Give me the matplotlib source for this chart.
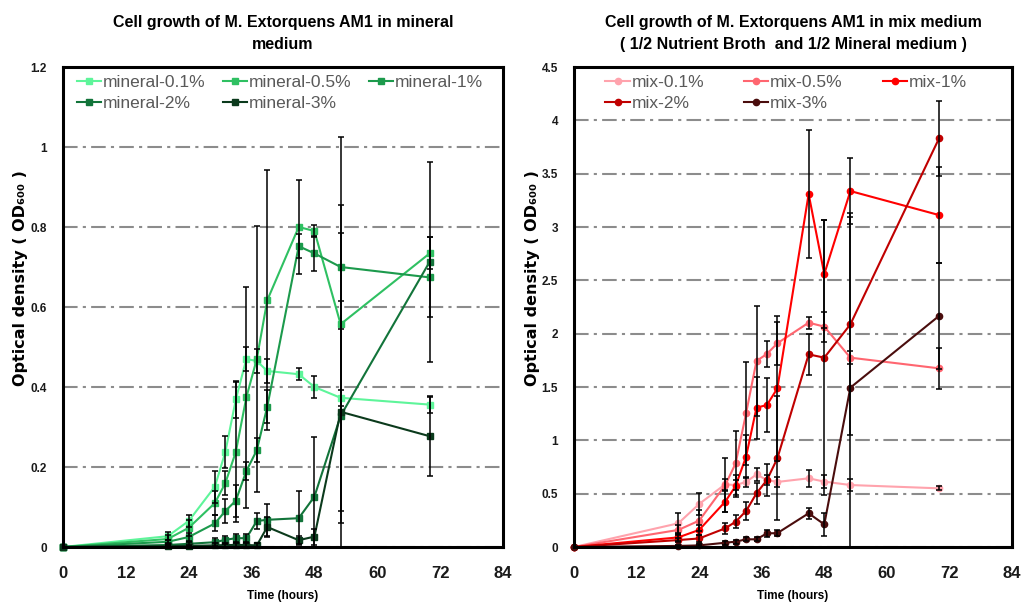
import matplotlib
matplotlib.use("Agg")
import matplotlib.pyplot as plt

plt.rcParams['font.family'] = ['Liberation Sans', 'DejaVu Sans']

# ---------------- data ----------------
time_h = [0, 20, 24, 29, 31, 33, 35, 37, 39, 45, 48, 53, 70]

mineral_labels = ["mineral-0.1%", "mineral-0.5%", "mineral-1%", "mineral-2%", "mineral-3%"]
min01 = [0, 0.027, 0.065, 0.151, 0.238, 0.369, 0.47, 0.465, 0.44, 0.432, 0.40, 0.373, 0.356]
min05 = [0, 0.02, 0.048, 0.11, 0.16, 0.238, 0.374, 0.47, 0.617, 0.80, 0.79, 0.557, 0.734]
min1 = [0, 0.013, 0.025, 0.059, 0.09, 0.116, 0.19, 0.242, 0.351, 0.752, 0.734, 0.70, 0.674]
min2 = [0, 0.005, 0.008, 0.012, 0.018, 0.022, 0.022, 0.065, 0.068, 0.072, 0.126, 0.328, 0.713]
min3 = [0, 0.002, 0.003, 0.004, 0.005, 0.005, 0.005, 0.004, 0.05, 0.017, 0.026, 0.338, 0.277]
min01_err = [0, 0.01, 0.015, 0.04, 0.04, 0.047, 0.03, 0.03, 0.03, 0.015, 0.028, 0.02, 0.02]
min05_err = [0, 0.01, 0.02, 0.03, 0.03, 0.175, 0.277, 0.333, 0.325, 0.117, 0.015, 0.468, 0.04]
min1_err = [0, 0.005, 0.01, 0.02, 0.03, 0.04, 0.023, 0.03, 0.042, 0.03, 0.044, 0.155, 0.10]
min2_err = [0, 0.003, 0.005, 0.01, 0.01, 0.01, 0.01, 0.02, 0.04, 0.067, 0.15, 0.458, 0.25]
min3_err = [0, 0.002, 0.003, 0.005, 0.005, 0.005, 0.005, 0.005, 0.025, 0.01, 0.02, 0.277, 0.10]

mix_labels = ["mix-0.1%", "mix-0.5%", "mix-1%", "mix-2%", "mix-3%"]
mix01 = [0, 0.222, 0.403, 0.588, 0.58, 0.61, 0.68, 0.628, 0.61, 0.644, 0.613, 0.581, 0.55]
mix05 = [0, 0.16, 0.247, 0.58, 0.784, 1.253, 1.744, 1.81, 1.91, 2.103, 2.066, 1.775, 1.675]
mix1 = [0, 0.09, 0.16, 0.425, 0.572, 0.847, 1.306, 1.331, 1.487, 3.309, 2.559, 3.337, 3.112]
mix2 = [0, 0.065, 0.08, 0.175, 0.237, 0.3375, 0.503, 0.628, 0.831, 1.806, 1.775, 2.087, 3.83]
mix3 = [0, 0.01, 0.015, 0.04, 0.05, 0.072, 0.072, 0.128, 0.13, 0.316, 0.212, 1.494, 2.166]
mix01_err = [0, 0.094, 0.106, 0.05, 0.05, 0.05, 0.06, 0.05, 0.05, 0.08, 0.06, 0.06, 0.02]
mix05_err = [0, 0.05, 0.10, 0.25, 0.30, 0.48, 0.52, 0.12, 0.20, 0.055, 0.14, 0.06, 0.19]
mix1_err = [0, 0.03, 0.05, 0.10, 0.10, 0.20, 0.29, 0.25, 0.68, 0.60, 0.51, 0.31, 0.45]
mix2_err = [0, 0.02, 0.03, 0.05, 0.06, 0.08, 0.10, 0.15, 0.58, 0.19, 1.29, 1.04, 0.355]
mix3_err = [0, 0.005, 0.01, 0.02, 0.02, 0.02, 0.02, 0.03, 0.03, 0.05, 0.11, 1.60, 0.50]

x_ticks = [0, 12, 24, 36, 48, 60, 72, 84]
left_yticks = [0, 0.2, 0.4, 0.6, 0.8, 1.0, 1.2]
left_yticklabels = ["0", "0.2", "0.4", "0.6", "0.8", "1", "1.2"]
right_yticks = [0, 0.5, 1, 1.5, 2, 2.5, 3, 3.5, 4, 4.5]
right_yticklabels = ["0", "0.5", "1", "1.5", "2", "2.5", "3", "3.5", "4", "4.5"]

left_title = "Cell growth of M. Extorquens AM1 in mineral\nmedium"
right_title = "Cell growth of M. Extorquens AM1 in mix medium\n( 1/2 Nutrient Broth  and 1/2 Mineral medium )"
ylabel = "Optical density ( OD\u2086\u2080\u2080 )"
xlabel = "Time (hours)"

mineral_colors = ["#5ef59a", "#2fc062", "#1c9a4c", "#12743a", "#0b3a1c"]
mix_colors = ["#ffa3ad", "#ff6670", "#ff0000", "#c00000", "#4a0d0d"]

mineral_series = [min01, min05, min1, min2, min3]
mineral_errs = [min01_err, min05_err, min1_err, min2_err, min3_err]
mix_series = [mix01, mix05, mix1, mix2, mix3]
mix_errs = [mix01_err, mix05_err, mix1_err, mix2_err, mix3_err]

# ---------------- figure ----------------
fig = plt.figure(figsize=(10.24, 6.1), dpi=100)
ax1 = fig.add_axes([63 / 1024, 63 / 610, 440 / 1024, 480 / 610])
ax2 = fig.add_axes([574 / 1024, 63 / 610, 438 / 1024, 480 / 610])


def draw(ax, series, errs, labels, colors, marker, ms, yticks, yticklabels, ylim, title,
         colspace, anchor_x):
    handles = []
    for s, c, lab in zip(series, colors, labels):
        h, = ax.plot(time_h, s, color=c, lw=1.5, marker=marker, ms=ms,
                     mec=c, mfc=c, label=lab, zorder=3, clip_on=False)
        handles.append(h)
    for s, e in zip(series, errs):
        ax.errorbar(time_h, s, yerr=e, fmt='none', ecolor='black', elinewidth=1.1,
                    capsize=2.5, capthick=1.1, zorder=4)
    ax.set_xlim(0, 84)
    ax.set_ylim(*ylim)
    ax.set_xticks(x_ticks)
    ax.set_yticks(yticks)
    ax.set_yticklabels(yticklabels)
    ax.tick_params(axis='x', length=0, pad=14, labelsize=12, labelcolor='#1a1a1a')
    ax.tick_params(axis='y', length=0, pad=11.5, labelsize=8.5, labelcolor='#1a1a1a')
    for lab in ax.get_xticklabels() + ax.get_yticklabels():
        lab.set_fontweight('bold')
    ax.yaxis.grid(True, color='#8c8c8c', lw=1.5, linestyle=(0, (7, 2.5, 1.5, 2.5)), zorder=1)
    ax.set_axisbelow(True)
    for sp in ax.spines.values():
        sp.set_linewidth(2.2)
        sp.set_color('black')
        sp.set_zorder(5)
    ax.set_title(title, fontsize=11.5, fontweight='bold', pad=13, linespacing=1.6)
    ax.set_xlabel(xlabel, fontsize=8.5, fontweight='bold', labelpad=6)
    ax.set_ylabel(ylabel, fontsize=11.5, fontweight='bold', family=['DejaVu Sans'])
    # legend order: column-major fill -> reorder so rows read 1st,2nd,3rd / 4th,5th
    order = [0, 3, 1, 4, 2]
    leg = ax.legend([handles[i] for i in order], [labels[i] for i in order],
                    ncol=3, loc='upper left', bbox_to_anchor=(anchor_x, 1.012),
                    frameon=False, fontsize=12.5, handlelength=1.4, handletextpad=0.1,
                    columnspacing=colspace, labelspacing=0.3, borderpad=0.3)
    for t in leg.get_texts():
        t.set_color('#595959')
    return leg


draw(ax1, mineral_series, mineral_errs, mineral_labels, mineral_colors, 's', 5,
     left_yticks, left_yticklabels, (0, 1.2), left_title, 1.0, 0.0)
draw(ax2, mix_series, mix_errs, mix_labels, mix_colors, 'o', 4.5,
     right_yticks, right_yticklabels, (0, 4.5), right_title, 2.3, 0.04)
ax1.yaxis.set_label_coords(-0.08, 0.56)
ax2.yaxis.set_label_coords(-0.078, 0.56)

fig.savefig("out.png", dpi=100)
